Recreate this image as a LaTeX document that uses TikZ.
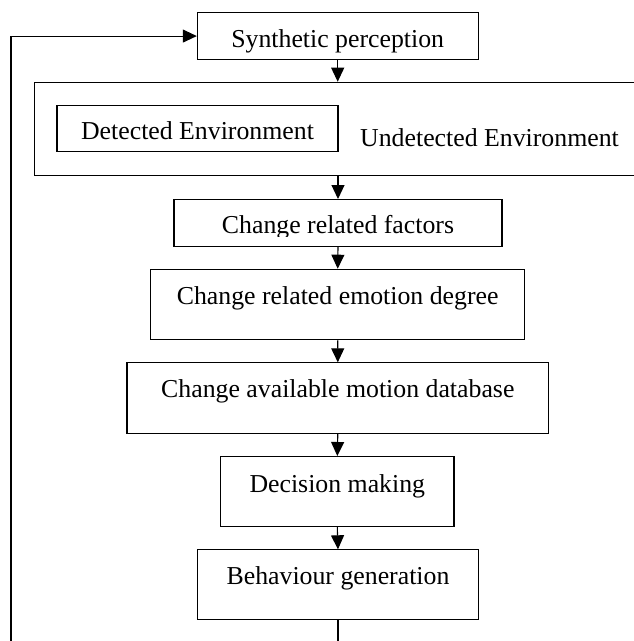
\documentclass[tikz,border=0pt]{standalone}
\usepackage{fontspec}
\setmainfont{Liberation Serif}
\usetikzlibrary{arrows.meta}
\begin{document}
\begin{tikzpicture}[x=1pt,y=-1pt,
  txt/.style={font=\fontsize{25.8}{31}\selectfont},
  box/.style={draw,line width=1.1pt,inner xsep=0pt,inner ysep=0pt,anchor=north,txt},
  arr/.style={line width=1.1pt,-{Triangle[length=14pt,width=13pt]}}]
\useasboundingbox (0,0) rectangle (633,641);
% boxes
\node[box,minimum width=280.7pt,text height=34.4pt,text depth=12pt] (synth) at (337.7,12.3) {Synthetic perception};
\node[draw,line width=1.1pt,anchor=north west,minimum width=640pt,minimum height=93.3pt,inner sep=0pt] (env) at (33.7,81.7) {};
\node[box,minimum width=281pt,text height=34pt,text depth=11.4pt] (det) at (197.5,105.3) {Detected Environment};
\node[txt,anchor=base west,inner sep=0pt] (undet) at (360,146.7) {Undetected Environment};
\node[box,minimum width=328pt,minimum height=46.7pt] (fact) at (338,199) {};
\begin{scope}
\clip (174,199) rectangle (502,236);
\node[txt,anchor=base,inner sep=0pt] (facttxt) at (338,233) {Change related factors};
\end{scope}
\node[box,minimum width=374pt,text height=35.3pt,text depth=35.3pt] (emo) at (337.7,268.7) {Change related emotion degree};
\node[box,minimum width=421.7pt,text height=34.7pt,text depth=35.7pt] (motion) at (337.8,362.3) {Change available motion database};
\node[box,minimum width=233.3pt,text height=35.7pt,text depth=34.3pt] (dec) at (337.3,456) {Decision making};
\node[box,minimum width=281.4pt,text height=34.7pt,text depth=35.3pt] (behav) at (338,549.3) {Behaviour generation};
% connectors
\draw[arr] (synth.south) -- (synth.south |- env.north);
\draw[arr] (env.south -| fact.north) -- (fact.north);
\draw[arr] (fact.south) -- (emo.north);
\draw[arr] (emo.south) -- (motion.north);
\draw[arr] (motion.south) -- (dec.north);
\draw[arr] (dec.south) -- (behav.north);
\coordinate (loopbl) at (11,680);
\draw[arr] (behav.south) |- (loopbl) |- (synth.west);
\end{tikzpicture}
\end{document}
